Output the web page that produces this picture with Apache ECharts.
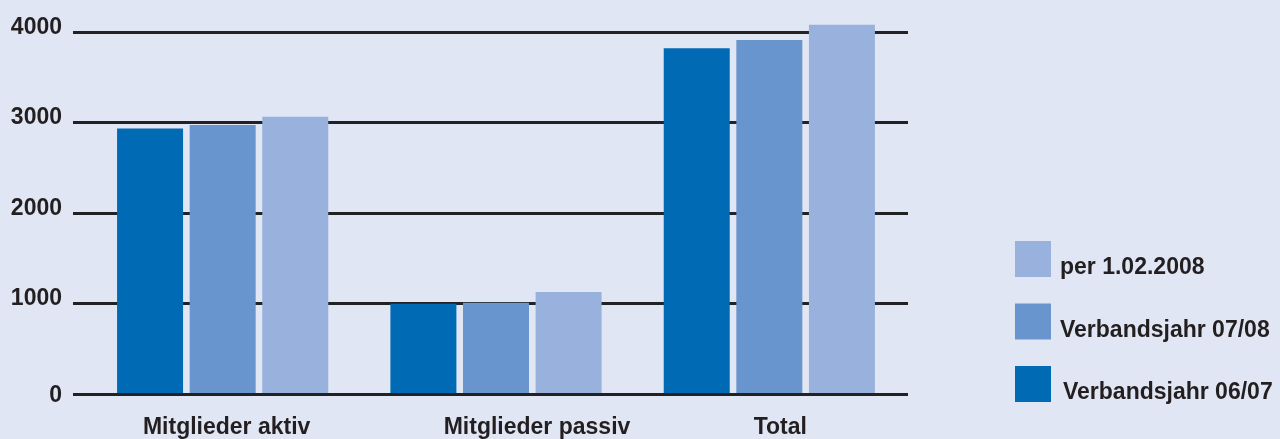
<!DOCTYPE html>
<html>
<head>
<meta charset="utf-8">
<script src="https://cdn.jsdelivr.net/npm/echarts@6/dist/echarts.min.js"></script>
<style>
  html, body { margin: 0; padding: 0; background: #e1e6f4; }
  #the-chart { width: 1280px; height: 439px; }
</style>
</head>
<body>
<div id="the-chart"></div>
<script>
// Mitgliederbestand
const categories = ['Mitglieder aktiv', 'Mitglieder passiv', 'Total']
const seriesNames = ['Verbandsjahr 06/07', 'Verbandsjahr 07/08', 'per 1.02.2008']
const jahr0607 = [2930, 990, 3820]
const jahr0708 = [2970, 1000, 3910]
const per2008 = [3060, 1120, 4080]
const yTicks = [0, 1000, 2000, 3000, 4000]

const colors = ['#006ab4', '#6895cd', '#98b2dd']
const font = '"Liberation Sans", Arial, sans-serif'
const textColor = '#231f20'
const fs = 23

let chart = echarts.init(document.getElementById('the-chart'))

let values = [jahr0607, jahr0708, per2008]

function txt(extra) {
  return Object.assign({ fontFamily: font, fontWeight: 'bold', fontSize: fs, color: textColor }, extra)
}

chart.setOption({
  backgroundColor: '#e1e6f4',
  animation: false,
  textStyle: { fontFamily: font, fontWeight: 'bold', color: textColor },
  grid: [
    // grid for the horizontal lines and the y labels
    { left: 73, right: 372, top: 32, bottom: 45 },
    // grid for the bars
    { left: 86, right: 374, top: 32, bottom: 45 }
  ],
  legend: {
    orient: 'vertical',
    left: 1010,
    top: 236,
    itemWidth: 36,
    itemHeight: 36,
    itemGap: 24,
    icon: 'rect',
    selectedMode: false,
    data: [seriesNames[2], seriesNames[1], seriesNames[0]],
    formatter: function(name) {
      return name === seriesNames[0] ? '{b|' + name + '}' : '{a|' + name + '}'
    },
    textStyle: {
      fontFamily: font,
      fontWeight: 'bold',
      fontSize: fs,
      color: textColor,
      rich: {
        a: txt({ padding: [18, 0, 0, 4] }),
        b: txt({ padding: [18, 0, 0, 7] })
      }
    }
  },
  xAxis: [
    { gridIndex: 0, type: 'value', min: 0, max: 1, show: false },
    {
      gridIndex: 1,
      type: 'category',
      data: categories,
      axisLine: { show: false },
      axisTick: { show: false },
      axisLabel: {
        margin: 23,
        formatter: function(v, i) {
          return '{c' + i + '|' + v + '}'
        },
        rich: {
          c0: txt({ padding: [0, 0, 0, 8] }),
          c1: txt({ padding: [0, 0, 0, 82] }),
          c2: txt({ padding: [0, 0, 0, 22] })
        }
      }
    }
  ],
  yAxis: [
    {
      gridIndex: 0,
      type: 'value',
      min: yTicks[0],
      max: yTicks[yTicks.length - 1],
      interval: yTicks[1] - yTicks[0],
      axisLine: { show: false },
      axisTick: { show: false },
      splitLine: { lineStyle: { color: '#222224', width: 3 } },
      axisLabel: {
        margin: 11,
        formatter: function(v) {
          return v === 0 ? '{z|0}' : '{n|' + v + '}'
        },
        rich: {
          z: txt({ padding: [4, 0, 0, 0] }),
          n: txt({ padding: [0, 0, 9, 0] })
        }
      }
    },
    {
      gridIndex: 1,
      type: 'value',
      min: yTicks[0],
      max: yTicks[yTicks.length - 1],
      show: false
    }
  ],
  series: values.map((x, index) => {
    return {
      name: seriesNames[index],
      type: 'bar',
      xAxisIndex: 1,
      yAxisIndex: 1,
      data: x,
      barWidth: 66,
      barGap: '10%',
      clip: false,
      itemStyle: { color: colors[index] },
      z: 3
    }
  })
})
</script>
</body>
</html>
